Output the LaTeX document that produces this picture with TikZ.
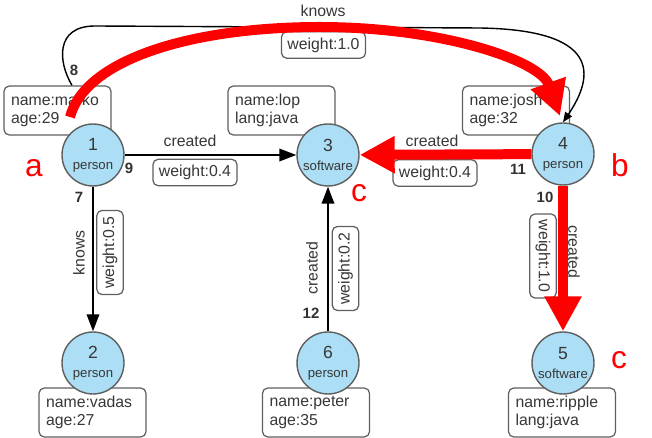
\documentclass[tikz,border=0pt]{standalone}
\usepackage{fontspec}
\setmainfont{Liberation Sans}
\usetikzlibrary{arrows.meta, positioning}
\definecolor{vertexblue}{RGB}{172, 222, 246}
\definecolor{textgray}{RGB}{55, 55, 55}
\definecolor{linegray}{RGB}{95, 95, 95}
\definecolor{hotred}{RGB}{255, 0, 0}

\begin{document}
\begin{tikzpicture}[x=0.02cm, y=-0.02cm,
  vertex/.style={circle, draw=linegray, line width=0.8pt, fill=vertexblue, minimum size=1.24cm, inner sep=0pt, align=center, text=textgray},
  propbox/.style={draw=linegray, rounded corners=3pt, line width=0.7pt, fill=white, minimum width=2.14cm, minimum height=0.98cm, text width=1.86cm, inner xsep=0.14cm, align=left, font=\fontsize{9}{10.5}\selectfont, text=textgray},
  wbox/.style={draw=linegray, rounded corners=3pt, line width=0.7pt, fill=white, minimum height=0.5cm, inner xsep=0.12cm, font=\fontsize{9}{10}\selectfont, text=textgray},
  elabel/.style={font=\fontsize{9}{10}\selectfont, text=textgray},
  numlabel/.style={font=\fontsize{8.5}{10}\selectfont\bfseries, text=textgray!90!black},
  arr/.style={-{Triangle[length=0.34cm, width=0.25cm]}, line width=1.1pt},
  hot/.style={hotred, line width=0.2cm, -{Triangle[length=0.7cm, width=0.7cm]}},
  tag/.style={font=\fontsize{18}{18}\selectfont, text=hotred}]
  \useasboundingbox (0,0) rectangle (652,438);

  % property boxes
  \node[propbox] (pm) at (57.5,110.5) {name:marko\\age:29};
  \node[propbox] (pl) at (281.5,110.5) {name:lop\\lang:java};
  \node[propbox] (pj) at (516,110.5) {name:josh\\age:32};
  \node[propbox] (pv) at (92.5,412.5) {name:vadas\\age:27};
  \node[propbox] (pp) at (316,412.5) {name:peter\\age:35};
  \node[propbox] (pr) at (562,412.5) {name:ripple\\lang:java};

  % vertices
  \node[vertex] (v1) at (93,155) {1\\[-1pt]{\fontsize{7.5}{8}\selectfont person}};
  \node[vertex] (v3) at (328,155) {3\\[-1pt]{\fontsize{7.5}{8}\selectfont software}};
  \node[vertex] (v4) at (563,154) {4\\[-1pt]{\fontsize{7.5}{8}\selectfont person}};
  \node[vertex] (v2) at (93,363) {2\\[-1pt]{\fontsize{7.5}{8}\selectfont person}};
  \node[vertex] (v6) at (328,363) {6\\[-1pt]{\fontsize{7.5}{8}\selectfont person}};
  \node[vertex] (v5) at (563,363) {5\\[-1pt]{\fontsize{7.5}{8}\selectfont software}};

  % black edges
  \draw[arr] (v1) -- (v3);
  \draw[arr] (v1) -- (v2);
  \draw[arr] (v6) -- (v3);
  \draw[line width=0.8pt, -{Triangle[length=0.2cm, width=0.16cm]}]
    ([xshift=0.29cm]pm.north) .. controls (58,62) and (55,26) .. (95,26)
    -- (480,28) .. controls (600,30) and (595,75) .. (v4.north);

  % edge labels
  \node[numlabel] (l8) at (74,70) {8};
  \node[numlabel] (l9) at (129,168) {9};
  \node[numlabel] (l7) at (79,197) {7};
  \node[numlabel] (l11) at (518,169) {11};
  \node[numlabel] (l10) at (545,197) {10};
  \node[numlabel] (l12) at (311,313) {12};
  \node[elabel] (e13) at (190,141) {created};
  \node[wbox] (w13) at (195,172.5) {weight:0.4};
  \node[elabel] (e43) at (432,141) {created};
  \node[wbox] (w43) at (435,173) {weight:0.4};
  \node[elabel] (e14) at (323,11) {knows};
  \node[wbox] (w14) at (323.5,45) {weight:1.0};
  \node[elabel, rotate=90] (e12) at (79,253) {knows};
  \node[wbox, rotate=90] (w12) at (110,252.5) {weight:0.5};
  \node[elabel, rotate=90] (e63) at (312,268) {created};
  \node[wbox, rotate=90] (w63) at (345.5,268.5) {weight:0.2};
  \node[elabel, rotate=-90] (e45) at (574,252) {created};
  \node[wbox, rotate=-90] (w45) at (543,256) {weight:1.0};

  % red path
  \draw[hot] (70,117) .. controls (85,60) and (190,27) .. (320,27)
    .. controls (440,27) and (540,60) .. (560,116);
  \draw[hot] (v4) -- (v3);
  \draw[hot] (v4) -- (v5);

  % tags
  \node[tag] (ta) at (34,168) {a};
  \node[tag] (tb) at (620,165) {b};
  \node[tag] (tc1) at (359,193) {c};
  \node[tag] (tc2) at (619,360) {c};
\end{tikzpicture}
\end{document}
